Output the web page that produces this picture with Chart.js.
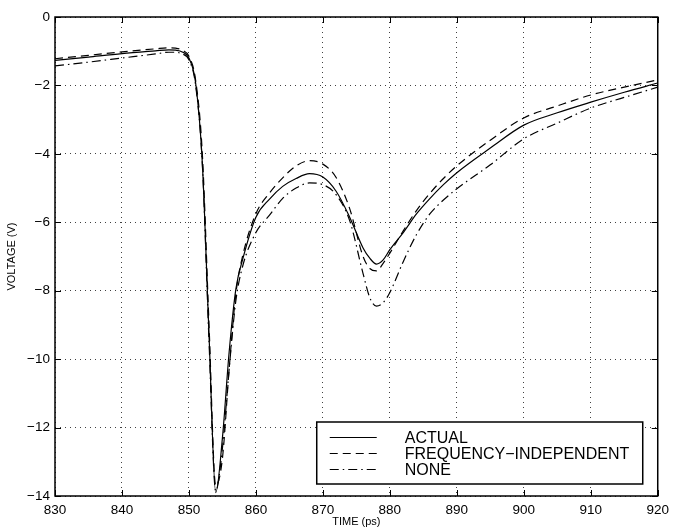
<!DOCTYPE html>
<html>
<head>
<meta charset="utf-8">
<script src="https://cdn.jsdelivr.net/npm/chart.js@4.4.1/dist/chart.umd.min.js"></script>
<style>
  body { margin: 0; background: #fff; }
</style>
</head>
<body>
<canvas id="grafico" width="675" height="531"></canvas>
<script>
// valores
var tempos = [830, 835, 840, 845, 847, 848, 849, 850, 851, 852, 853, 854, 855, 856, 857, 858, 860, 862, 864, 866,
    868, 870, 872, 874, 876, 877, 878, 879, 880, 882, 884, 886, 888, 890, 895, 900, 905, 910, 915, 920];

var actual = [-1.27, -1.17, -1.07, -0.99, -0.96, -0.97, -1.02, -1.2, -1.93, -4.27, -9.3, -13.9, -12.3, -9.8, -7.96, -7.1,
    -5.85, -5.33, -4.95, -4.72, -4.58, -4.68, -5.1, -5.85, -6.75, -7.05, -7.22, -7.1, -6.8, -6.3,
    -5.75, -5.3, -4.9, -4.55, -3.83, -3.16, -2.8, -2.49, -2.2, -1.93];

var freqIndep = [-1.22, -1.12, -1.02, -0.93, -0.9, -0.91, -0.97, -1.15, -1.85, -4.0, -9.0, -13.7, -12.9, -10.3, -8.1, -7.0,
    -5.75, -5.15, -4.7, -4.35, -4.2, -4.3, -4.7, -5.6, -7.0, -7.35, -7.42, -7.2, -6.9, -6.25,
    -5.65, -5.15, -4.72, -4.35, -3.6, -2.95, -2.6, -2.28, -2.05, -1.84];

var none = [-1.43, -1.32, -1.2, -1.08, -1.03, -1.03, -1.08, -1.25, -2.0, -4.3, -9.5, -13.85, -12.6, -10.3, -8.3, -7.3,
    -6.3, -5.8, -5.3, -5.0, -4.85, -4.9, -5.2, -5.95, -7.5, -8.2, -8.45, -8.35, -8.05, -7.15,
    -6.35, -5.75, -5.35, -5.02, -4.32, -3.56, -3.1, -2.66, -2.35, -2.05];

var xTicks = [830, 840, 850, 860, 870, 880, 890, 900, 910, 920];
var yTicks = [-14, -12, -10, -8, -6, -4, -2, 0];

var nomes = ["ACTUAL", "FREQUENCY\u2212INDEPENDENT", "NONE"];

var fonte = "'Liberation Sans', Arial, Helvetica, sans-serif";

function pontos(valores) {
    return tempos.map(function (t, i) { return {x: t, y: valores[i]}; });
}

// moldura estilo matlab: caixa, ticks para dentro e legenda
var moldura = {
    id: "moldura",
    afterDatasetsDraw: function (chart) {
        var ctx = chart.ctx, a = chart.chartArea;
        var sx = chart.scales.x, sy = chart.scales.y;
        ctx.save();
        ctx.strokeStyle = "#000";
        ctx.lineWidth = 1;
        ctx.setLineDash([]);
        ctx.beginPath();
        xTicks.forEach(function (v) {
            var px = Math.round(sx.getPixelForValue(v)) + 0.5;
            ctx.moveTo(px, a.bottom); ctx.lineTo(px, a.bottom - 6);
            ctx.moveTo(px, a.top); ctx.lineTo(px, a.top + 6);
        });
        yTicks.forEach(function (v) {
            var py = Math.round(sy.getPixelForValue(v)) + 0.5;
            ctx.moveTo(a.left, py); ctx.lineTo(a.left + 6, py);
            ctx.moveTo(a.right, py); ctx.lineTo(a.right - 6, py);
        });
        ctx.stroke();
        ctx.lineWidth = 1.5;
        ctx.strokeRect(a.left, a.top, a.right - a.left, a.bottom - a.top);

        // legenda
        var lx = a.right - 341, ly = a.bottom - 74, lw = 326, lh = 62;
        ctx.fillStyle = "#fff";
        ctx.fillRect(lx, ly, lw, lh);
        ctx.lineWidth = 1.5;
        ctx.strokeRect(lx, ly, lw, lh);
        ctx.font = "16px " + fonte;
        ctx.textBaseline = "middle";
        chart.data.datasets.forEach(function (ds, i) {
            var y = Math.round(ly + 15 + i * 16) + 0.5;
            ctx.strokeStyle = "#000";
            ctx.lineWidth = 1;
            ctx.setLineDash(ds.borderDash || []);
            ctx.beginPath();
            ctx.moveTo(lx + 13, y); ctx.lineTo(lx + 60, y);
            ctx.stroke();
            ctx.setLineDash([]);
            ctx.fillStyle = "#000";
            ctx.fillText(ds.label, lx + 88, y + 1);
        });
        ctx.restore();
    }
};

function init_grafico() {
    var cfg = {
        type: "line",
        data: {
            datasets: [{
                label: nomes[0],
                data: pontos(actual),
                borderColor: "#000",
                borderWidth: 1.2,
                pointRadius: 0,
                cubicInterpolationMode: "monotone"
            }, {
                label: nomes[1],
                data: pontos(freqIndep),
                borderColor: "#000",
                borderWidth: 1.2,
                borderDash: [8, 5],
                pointRadius: 0,
                cubicInterpolationMode: "monotone"
            }, {
                label: nomes[2],
                data: pontos(none),
                borderColor: "#000",
                borderWidth: 1.2,
                borderDash: [9, 4, 1.5, 4],
                pointRadius: 0,
                cubicInterpolationMode: "monotone"
            }]
        },
        options: {
            responsive: false,
            animation: false,
            layout: {padding: {top: 17, right: 12, left: 0, bottom: 0}},
            plugins: {legend: {display: false}, tooltip: {enabled: false}},
            scales: {
                x: {
                    type: "linear",
                    min: 830, max: 920,
                    afterBuildTicks: function (s) { s.ticks = xTicks.map(function (v) { return {value: v}; }); },
                    afterFit: function (s) { s.height = 35; },
                    border: {display: false, dash: [1, 4]},
                    grid: {color: "rgba(0,0,0,0.75)", lineWidth: 1, drawTicks: false},
                    ticks: {color: "#000", padding: 6, font: {family: fonte, size: 13.5}, maxRotation: 0},
                    title: {display: true, text: "TIME (ps)", color: "#000", font: {family: fonte, size: 11}, padding: {top: 0, bottom: 2}}
                },
                y: {
                    min: -14, max: 0,
                    afterBuildTicks: function (s) { s.ticks = yTicks.map(function (v) { return {value: v}; }); },
                    afterFit: function (s) { s.width = 55; },
                    border: {display: false, dash: [1, 4]},
                    grid: {color: "rgba(0,0,0,0.75)", lineWidth: 1, drawTicks: false},
                    ticks: {
                        color: "#000", padding: 5, font: {family: fonte, size: 13.5},
                        callback: function (v) { return String(v).replace("-", "\u2212"); }
                    },
                    title: {display: true, text: "VOLTAGE (V)", color: "#000", font: {family: fonte, size: 11}, padding: {top: 5, bottom: 0}}
                }
            }
        },
        plugins: [moldura]
    };
    new Chart(document.getElementById("grafico"), cfg);
}

init_grafico();
</script>
</body>
</html>
